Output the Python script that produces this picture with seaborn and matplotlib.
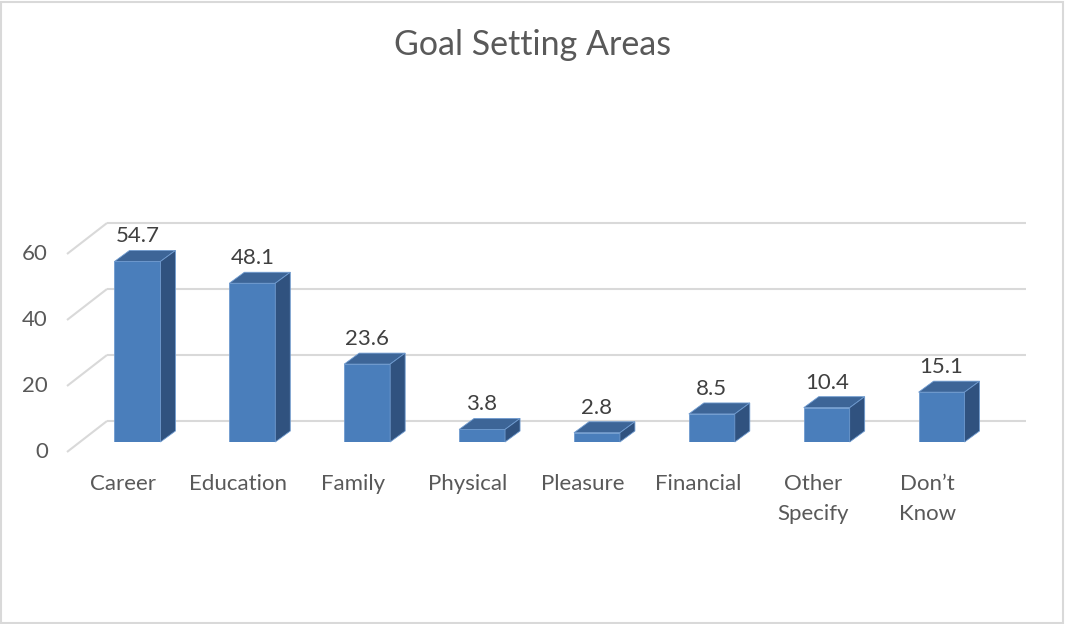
import matplotlib
matplotlib.use("Agg")
import matplotlib.pyplot as plt
from matplotlib.patches import Rectangle
import seaborn as sns
import pandas as pd

# Chart data
categories = ["Career", "Education", "Family", "Physical", "Pleasure",
              "Financial", "Other\nSpecify", "Don\u2019t\nKnow"]
values = [54.7, 48.1, 23.6, 3.8, 2.8, 8.5, 10.4, 15.1]
y_ticks = [0, 20, 40, 60]
title = "Goal Setting Areas"

# Colours
FRONT = "#4a7ebb"
TOP = "#3d6597"
SIDE = "#30527f"
EDGE = "#6f9bd0"
GRID = "#d9d9d9"
TEXT = "#595959"
LABEL = "#404040"

sns.set_theme(style="white")
plt.rcParams["font.family"] = ["Lato", "DejaVu Sans"]

W, H, DPI = 1065, 624, 100
fig = plt.figure(figsize=(W / DPI, H / DPI), dpi=DPI)
fig.patch.set_facecolor("white")

# plot plane where the front faces of the columns sit
left_px, right_px, base_px, top_px = 80, 999, 442, 244
ax = fig.add_axes([left_px / W, (H - base_px) / H,
                   (right_px - left_px) / W, (base_px - top_px) / H])

px_x = (right_px - left_px) / len(categories)   # pixels per category unit
px_y = (base_px - top_px) / 60.0                # pixels per value unit


def off(dx_px, dy_px):
    """Pixel offset (right, up) expressed in data units."""
    return dx_px / px_x, dy_px / px_y


bar_d = off(15, 11)      # depth of each column
back_d = off(27, 21)     # back wall relative to the column plane
front_d = off(-13, -10)  # front edge of the floor / side wall

# front faces of the columns
df = pd.DataFrame({"area": categories, "pct": values})
sns.barplot(data=df, x="area", y="pct", color=FRONT, saturation=1,
            width=0.4, ax=ax, zorder=2, edgecolor=EDGE, linewidth=0.6)
ax.set_xlim(-0.5, len(categories) - 0.5)
ax.set_ylim(0, 60)
ax.axis("off")

# walls: back gridlines and diagonal lines on the side wall
x0, x1 = -0.5, len(categories) - 0.5
for t in y_ticks:
    ax.plot([x0 + back_d[0], x1 + back_d[0]], [t + back_d[1]] * 2,
            color=GRID, lw=1.5, zorder=0, clip_on=False, solid_capstyle="butt")
    ax.plot([x0 + front_d[0], x0 + back_d[0]], [t + front_d[1], t + back_d[1]],
            color=GRID, lw=1.5, zorder=0, clip_on=False, solid_capstyle="butt")
    ax.annotate(str(t), xy=(x0 + front_d[0], t + front_d[1]),
                xytext=(-19 * 0.72, 0), textcoords="offset points",
                ha="right", va="center", fontsize=16, color=TEXT,
                annotation_clip=False)

# top and side faces giving each column its depth
for bar in ax.patches:
    bx = bar.get_x()
    bw = bar.get_width()
    v = bar.get_height()
    dx, dy = bar_d
    ax.fill([bx, bx + bw, bx + bw + dx, bx + dx], [v, v, v + dy, v + dy],
            color=TOP, zorder=2, clip_on=False, ec=EDGE, lw=0.6)
    ax.fill([bx + bw, bx + bw + dx, bx + bw + dx, bx + bw], [0, dy, v + dy, v],
            color=SIDE, zorder=2, clip_on=False, ec=EDGE, lw=0.6)

# value labels above the columns
for i, v in enumerate(values):
    ax.annotate(f"{v:.1f}", xy=(i, v), xytext=(0, 25 * 0.72),
                textcoords="offset points", ha="center", va="center",
                fontsize=16, color=LABEL, annotation_clip=False)

# category labels along the floor
for i, c in enumerate(categories):
    ax.annotate(c, xy=(i, 0), xytext=(-14 * 0.72, -32 * 0.72),
                textcoords="offset points", ha="center", va="top",
                fontsize=16, color=TEXT, linespacing=1.6,
                annotation_clip=False)

fig.text(0.5, 1 - 45 / H, title, ha="center", va="center",
         fontsize=24.5, color=TEXT)

# chart border
fig.add_artist(Rectangle((0.5 / W, 1.5 / H), (W - 3) / W, (H - 3) / H,
                         transform=fig.transFigure, fill=False,
                         ec=GRID, lw=1.5))

fig.savefig("out.png", dpi=DPI, facecolor="white")
